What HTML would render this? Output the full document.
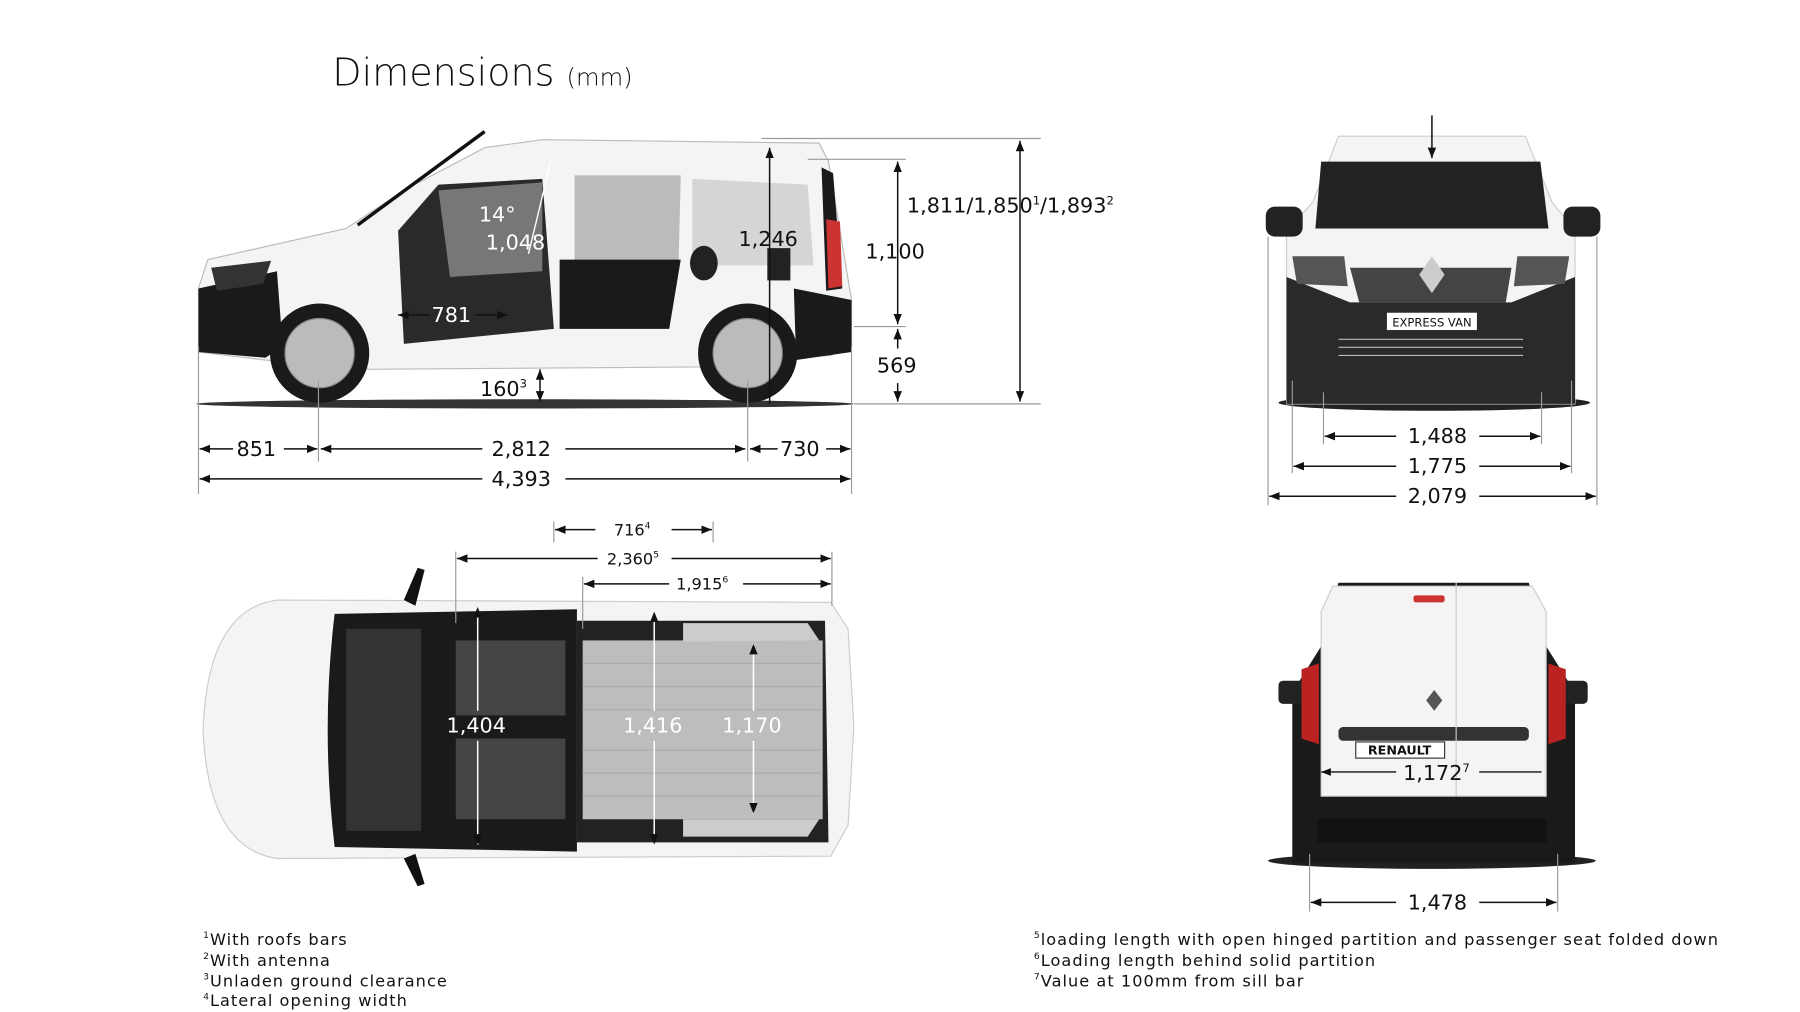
<!DOCTYPE html>
<html><head><meta charset="utf-8"><style>
html,body{margin:0;padding:0;background:#fff;}
svg{display:block}
text{font-family:"DejaVu Sans","Liberation Sans",sans-serif;fill:#111;}
</style></head><body>
<svg width="1800" height="1012" viewBox="0 0 1560 877" xmlns="http://www.w3.org/2000/svg">
<defs>
<marker id="a" viewBox="0 0 10 10" refX="10" refY="5" markerWidth="7" markerHeight="7" orient="auto-start-reverse"><path d="M0,1 L10,5 L0,9 z" fill="#111"/></marker>
</defs>
<rect width="1560" height="877" fill="#fff"/>
<text x="288" y="74" font-size="33" font-family="Liberation Sans" style="font-weight:300" fill="#333">Dimensions <tspan font-size="21">(mm)</tspan></text>

<!-- SIDE VIEW -->
<ellipse cx="455" cy="350" rx="285" ry="4" fill="#333"/>
<path d="M172,250 L180,225 L300,198 L350,165 L420,128 L470,121 L710,124 L718,140 L728,200 L738,260 L738,300 L720,308 L690,310 L605,318 L320,320 L230,312 L172,305 Z" fill="#f4f4f4" stroke="#bbb"/>
<path d="M172,250 L240,235 L245,300 L230,310 L172,305 Z" fill="#1a1a1a"/>
<path d="M688,250 L738,260 L738,305 L690,312 Z" fill="#1a1a1a"/>
<path d="M712,145 L722,150 L730,250 L716,252 Z" fill="#1a1a1a"/>
<path d="M716,190 L728,192 L730,248 L718,250 Z" fill="#c33"/>
<path d="M183,232 L235,226 L228,246 L188,252 Z" fill="#333"/>
<path d="M345,200 L380,160 L470,155 L480,285 L350,298 Z" fill="#2a2a2a"/>
<path d="M380,165 L470,158 L470,235 L390,240 Z" fill="#777"/>
<path d="M498,152 L590,152 L588,230 L498,230 Z" fill="#bbb"/>
<path d="M600,155 L700,160 L705,230 L600,230 Z" fill="#d5d5d5"/>
<path d="M485,225 L590,225 L580,285 L485,285 Z" fill="#1a1a1a"/>
<ellipse cx="610" cy="228" rx="12" ry="15" fill="#222"/>
<rect x="665" y="215" width="20" height="28" fill="#222"/>
<line x1="310" y1="195" x2="420" y2="114" stroke="#111" stroke-width="3"/>
<circle cx="277" cy="306" r="43" fill="#1a1a1a"/><circle cx="277" cy="306" r="30" fill="#bbb" stroke="#888"/>
<circle cx="648" cy="306" r="43" fill="#1a1a1a"/><circle cx="648" cy="306" r="30" fill="#bbb" stroke="#888"/>
<g stroke="#999" stroke-width="1">
<line x1="660" y1="120" x2="902" y2="120"/><line x1="740" y1="350" x2="902" y2="350"/>
<line x1="700" y1="138" x2="785" y2="138"/><line x1="740" y1="283" x2="785" y2="283"/>
<line x1="172" y1="300" x2="172" y2="428"/><line x1="276" y1="330" x2="276" y2="400"/>
<line x1="648" y1="330" x2="648" y2="400"/><line x1="738" y1="300" x2="738" y2="428"/>
</g>
<g stroke="#111" stroke-width="1.3" fill="none">
<line x1="884" y1="122" x2="884" y2="348" marker-start="url(#a)" marker-end="url(#a)"/>
<line x1="778" y1="140" x2="778" y2="281" marker-start="url(#a)" marker-end="url(#a)"/>
<line x1="778" y1="285" x2="778" y2="302" marker-start="url(#a)"/>
<line x1="778" y1="332" x2="778" y2="348" marker-end="url(#a)"/>
<line x1="667" y1="128" x2="667" y2="350" marker-start="url(#a)"/>
<line x1="468" y1="320" x2="468" y2="348" marker-start="url(#a)" marker-end="url(#a)"/>
<line x1="372" y1="273" x2="345" y2="273" marker-end="url(#a)"/>
<line x1="412" y1="273" x2="440" y2="273" marker-end="url(#a)"/>
<line x1="202" y1="389" x2="173" y2="389" marker-end="url(#a)"/><line x1="246" y1="389" x2="275" y2="389" marker-end="url(#a)"/>
<line x1="418" y1="389" x2="278" y2="389" marker-end="url(#a)"/><line x1="490" y1="389" x2="646" y2="389" marker-end="url(#a)"/>
<line x1="674" y1="389" x2="650" y2="389" marker-end="url(#a)"/><line x1="716" y1="389" x2="737" y2="389" marker-end="url(#a)"/>
<line x1="418" y1="415" x2="173" y2="415" marker-end="url(#a)"/><line x1="490" y1="415" x2="737" y2="415" marker-end="url(#a)"/>
</g>
<line x1="478" y1="137" x2="458" y2="220" stroke="#fff" stroke-width="1.2"/>
<g font-size="18">
<text x="786" y="184">1,811/1,850<tspan font-size="10" dy="-7">1</tspan><tspan dy="7">/1,893</tspan><tspan font-size="10" dy="-7">2</tspan></text>
<text x="750" y="224">1,100</text>
<text x="760" y="323">569</text>
<text x="640" y="213">1,246</text>
<text x="416" y="343">160<tspan font-size="10" dy="-7">3</tspan></text>
<text x="374" y="279" style="fill:#fff">781</text>
<text x="415" y="192" style="fill:#fff">14°</text>
<text x="421" y="216" style="fill:#fff">1,048</text>
<text x="205" y="395">851</text>
<text x="426" y="395">2,812</text>
<text x="676" y="395">730</text>
<text x="426" y="421">4,393</text>
</g>

<!-- FRONT VIEW -->
<ellipse cx="1243" cy="349" rx="135" ry="7" fill="#222"/>
<path d="M1160,118 L1322,118 L1345,175 L1365,200 L1365,350 L1115,350 L1115,200 L1138,175 Z" fill="#f4f4f4" stroke="#ccc"/>
<path d="M1145,140 L1335,140 L1342,198 L1140,198 Z" fill="#222"/>
<rect x="1097" y="179" width="32" height="26" rx="8" fill="#222"/>
<rect x="1355" y="179" width="32" height="26" rx="8" fill="#222"/>
<path d="M1115,240 L1170,262 L1310,262 L1365,240 L1365,350 L1115,350 Z" fill="#2a2a2a"/>
<path d="M1120,222 L1165,222 L1168,248 L1124,246 Z" fill="#555"/>
<path d="M1315,222 L1360,222 L1356,246 L1312,248 Z" fill="#555"/>
<path d="M1170,232 L1310,232 L1305,262 L1178,262 Z" fill="#444"/>
<path d="M1241,222 L1252,238 L1241,254 L1230,238 Z" fill="#ccc"/>
<rect x="1202" y="271" width="78" height="15" fill="#fff"/>
<text x="1241" y="283" font-size="10" text-anchor="middle" font-family="Liberation Sans">EXPRESS VAN</text>
<g stroke="#bbb"><line x1="1160" y1="294" x2="1320" y2="294"/><line x1="1160" y1="301" x2="1320" y2="301"/><line x1="1160" y1="308" x2="1320" y2="308"/></g>
<line x1="1241" y1="100" x2="1241" y2="137" stroke="#111" stroke-width="1.3" marker-end="url(#a)"/>
<g stroke="#999"><line x1="1099" y1="205" x2="1099" y2="438"/><line x1="1384" y1="205" x2="1384" y2="438"/>
<line x1="1120" y1="330" x2="1120" y2="410"/><line x1="1362" y1="330" x2="1362" y2="410"/>
<line x1="1147" y1="340" x2="1147" y2="385"/><line x1="1336" y1="340" x2="1336" y2="385"/></g>
<g stroke="#111" stroke-width="1.3">
<line x1="1210" y1="378" x2="1148" y2="378" marker-end="url(#a)"/><line x1="1282" y1="378" x2="1335" y2="378" marker-end="url(#a)"/>
<line x1="1210" y1="404" x2="1121" y2="404" marker-end="url(#a)"/><line x1="1282" y1="404" x2="1361" y2="404" marker-end="url(#a)"/>
<line x1="1210" y1="430" x2="1100" y2="430" marker-end="url(#a)"/><line x1="1282" y1="430" x2="1383" y2="430" marker-end="url(#a)"/>
</g>
<g font-size="18"><text x="1220" y="384">1,488</text><text x="1220" y="410">1,775</text><text x="1220" y="436">2,079</text></g>

<!-- TOP VIEW -->
<path d="M240,520 L720,522 L735,545 L740,630 L735,715 L720,742 L240,744 Q180,735 176,632 Q180,528 240,520 Z" fill="#f4f4f4" stroke="#ccc"/>
<path d="M290,532 L500,528 L500,738 L290,734 Q278,632 290,532 Z" fill="#1a1a1a"/>
<rect x="300" y="545" width="65" height="175" fill="#333"/>
<rect x="395" y="555" width="95" height="65" fill="#444"/><rect x="395" y="640" width="95" height="70" fill="#444"/>
<path d="M500,538 L715,538 L718,730 L500,730 Z" fill="#222"/>
<rect x="505" y="555" width="208" height="155" fill="#bdbdbd"/>
<path d="M592,540 L700,540 L710,555 L592,556 Z" fill="#ccc"/>
<path d="M592,710 L710,710 L700,725 L592,725 Z" fill="#ccc"/>
<g stroke="#aaa">
<line x1="505" y1="575" x2="713" y2="575"/><line x1="505" y1="595" x2="713" y2="595"/><line x1="505" y1="615" x2="713" y2="615"/>
<line x1="505" y1="650" x2="713" y2="650"/><line x1="505" y1="670" x2="713" y2="670"/><line x1="505" y1="690" x2="713" y2="690"/></g>
<path d="M350,520 L362,492 L368,494 L360,525 Z" fill="#111"/>
<path d="M350,744 L362,768 L368,766 L360,740 Z" fill="#111"/>
<g stroke="#999"><line x1="480" y1="452" x2="480" y2="470"/><line x1="618" y1="452" x2="618" y2="470"/>
<line x1="395" y1="478" x2="395" y2="540"/><line x1="721" y1="478" x2="721" y2="525"/><line x1="505" y1="500" x2="505" y2="545"/></g>
<g stroke="#111" stroke-width="1.3">
<line x1="516" y1="459" x2="481" y2="459" marker-end="url(#a)"/><line x1="582" y1="459" x2="617" y2="459" marker-end="url(#a)"/>
<line x1="518" y1="484" x2="396" y2="484" marker-end="url(#a)"/><line x1="582" y1="484" x2="720" y2="484" marker-end="url(#a)"/>
<line x1="580" y1="506" x2="506" y2="506" marker-end="url(#a)"/><line x1="644" y1="506" x2="720" y2="506" marker-end="url(#a)"/>
</g>
<g stroke="#fff" stroke-width="1.3">
<line x1="414" y1="616" x2="414" y2="526" marker-end="url(#a)"/><line x1="414" y1="642" x2="414" y2="732" marker-end="url(#a)"/>
<line x1="567" y1="616" x2="567" y2="530" marker-end="url(#a)"/><line x1="567" y1="642" x2="567" y2="732" marker-end="url(#a)"/>
<line x1="653" y1="616" x2="653" y2="558" marker-end="url(#a)"/><line x1="653" y1="642" x2="653" y2="705" marker-end="url(#a)"/>
</g>
<g font-size="14"><text x="532" y="464">716<tspan font-size="8" dy="-6">4</tspan></text>
<text x="526" y="489">2,360<tspan font-size="8" dy="-6">5</tspan></text>
<text x="586" y="511">1,915<tspan font-size="8" dy="-6">6</tspan></text></g>
<g font-size="18"><text x="387" y="635" style="fill:#fff">1,404</text><text x="540" y="635" style="fill:#fff">1,416</text><text x="626" y="635" style="fill:#fff">1,170</text></g>

<!-- REAR VIEW -->
<ellipse cx="1241" cy="746" rx="142" ry="7" fill="#222"/>
<path d="M1160,505 L1325,505 L1340,560 L1365,600 L1365,748 L1120,748 L1120,600 L1145,560 Z" fill="#1a1a1a"/>
<path d="M1155,508 L1328,508 L1340,530 L1340,690 L1145,690 L1145,530 Z" fill="#f4f4f4" stroke="#ccc"/>
<rect x="1225" y="516" width="27" height="6" rx="2" fill="#c33"/>
<rect x="1108" y="590" width="22" height="20" rx="4" fill="#222"/><rect x="1354" y="590" width="22" height="20" rx="4" fill="#222"/>
<path d="M1128,580 L1143,575 L1143,645 L1128,640 Z" fill="#b22"/><path d="M1342,575 L1357,580 L1357,640 L1342,645 Z" fill="#b22"/>
<rect x="1160" y="630" width="165" height="12" rx="4" fill="#333"/>
<rect x="1175" y="643" width="77" height="14" fill="#fff" stroke="#333"/>
<text x="1213" y="654" font-size="11" text-anchor="middle" font-weight="bold" font-family="Liberation Sans">RENAULT</text>
<path d="M1243,598 L1250,607 L1243,616 L1236,607 Z" fill="#555"/>
<rect x="1142" y="710" width="198" height="20" fill="#111"/>
<line x1="1262" y1="505" x2="1262" y2="690" stroke="#ccc"/>
<line x1="1210" y1="669" x2="1145" y2="669" stroke="#111" stroke-width="1.2" marker-end="url(#a)"/>
<line x1="1282" y1="669" x2="1336" y2="669" stroke="#111" stroke-width="1.2"/>
<text x="1216" y="676" font-size="18">1,172<tspan font-size="10" dy="-7">7</tspan></text>
<g stroke="#999"><line x1="1135" y1="740" x2="1135" y2="790"/><line x1="1350" y1="740" x2="1350" y2="790"/></g>
<g stroke="#111" stroke-width="1.3"><line x1="1210" y1="782" x2="1136" y2="782" marker-end="url(#a)"/><line x1="1282" y1="782" x2="1349" y2="782" marker-end="url(#a)"/></g>
<text x="1220" y="788" font-size="18">1,478</text>

<!-- FOOTNOTES -->
<g font-size="14" letter-spacing="0.9">
<text x="176" y="819"><tspan font-size="8" dy="-6">1</tspan><tspan dy="6">With roofs bars</tspan></text>
<text x="176" y="837"><tspan font-size="8" dy="-6">2</tspan><tspan dy="6">With antenna</tspan></text>
<text x="176" y="855"><tspan font-size="8" dy="-6">3</tspan><tspan dy="6">Unladen ground clearance</tspan></text>
<text x="176" y="872"><tspan font-size="8" dy="-6">4</tspan><tspan dy="6">Lateral opening width</tspan></text>
<text x="896" y="819"><tspan font-size="8" dy="-6">5</tspan><tspan dy="6">loading length with open hinged partition and passenger seat folded down</tspan></text>
<text x="896" y="837"><tspan font-size="8" dy="-6">6</tspan><tspan dy="6">Loading length behind solid partition</tspan></text>
<text x="896" y="855"><tspan font-size="8" dy="-6">7</tspan><tspan dy="6">Value at 100mm from sill bar</tspan></text>
</g>
</svg>
</body></html>
